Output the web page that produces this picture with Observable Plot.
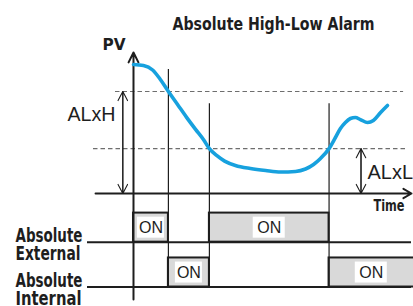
<!DOCTYPE html>
<html><head><meta charset="utf-8">
<script src="https://cdn.jsdelivr.net/npm/d3@7"></script>
<script src="https://cdn.jsdelivr.net/npm/@observablehq/plot@0.6"></script>
<style>
html,body{margin:0;padding:0;background:#fff;}
#chart{width:413px;height:306px;overflow:hidden;}
</style>
</head><body><div id="chart"></div>
<script>
// ---- data ----
const title = "Absolute High-Low Alarm";
const yLabel = "PV";
const xLabel = "Time";
const highLabel = "ALxH";
const lowLabel = "ALxL";
const onLabel = "ON";
const alarmHigh = 100;
const alarmLow = 44;
const pvTime  = [0, 3.6, 6.9, 9.7, 12.6, 15.9, 19.1, 22.4, 25.3, 27.4, 30.0, 32.9, 36.8, 42.2, 47.7, 53.1, 58.5, 62.1, 65.0, 67.5, 70.6, 72.9, 74.7, 76.5, 78.3, 80.1, 81.9, 84.5, 86.6, 89.2, 91.7];
const pvValue = [126.5, 125.5, 121.1, 111.8, 100, 87.3, 74.9, 62.9, 52.7, 44, 37.3, 31.8, 27.5, 24.5, 22.5, 21.1, 21.6, 24, 28.4, 34.3, 44, 54.9, 63.7, 69.6, 73.5, 74.5, 72.5, 69.6, 71.6, 79.4, 86.3];
const switchTimes = [0, 12.6, 27.4, 70.6];
const relayNames = ["Absolute External", "Absolute Internal"];
const externalState = [1, 0, 1, 0];
const internalState = [0, 1, 0, 1];

// ---- layout ----
const W = 413, H = 306;
const xDomain = [-48.01, 101.08];
const yDomain = [-110.78, 189.22];
const pxPerT = W / (xDomain[1] - xDomain[0]);
const rowBase = [-47.7, -91.7];
const rowHeight = 28.5;
const tEnd = xDomain[1] + 2;
const ink = "#1e1e1e";
const boldFont = "'DejaVu Sans Condensed', 'DejaVu Sans', sans-serif";
const textFont = "'Liberation Sans', Arial, sans-serif";

const pv = pvTime.map((t, i) => ({t, v: pvValue[i]}));

const pulses = [];
[externalState, internalState].forEach((states, r) => {
  states.forEach((s, i) => {
    if (!s) return;
    const t1 = switchTimes[i];
    const t2 = i + 1 < switchTimes.length ? switchTimes[i + 1] : tEnd;
    const vis2 = Math.min(t2, xDomain[1]);
    const wpx = (vis2 - t1) * pxPerT;
    const boxW = wpx < 45 ? 27 : 32;
    pulses.push({t1, t2, base: rowBase[r], mid: (t1 + vis2) / 2, hw: boxW / 2 / pxPerT});
  });
});

const thresholds = [alarmHigh, alarmLow, alarmLow];
const markers = switchTimes.slice(1).map((t, i) => ({t, top: thresholds[i] + (thresholds[i] === alarmHigh ? 21.6 : 44.1)}));

const rows = relayNames.map((name, r) => {
  const [a, b] = name.split(" ");
  return {first: a, second: b, base: rowBase[r]};
});

const chart = Plot.plot({
  width: W, height: H, margin: 0,
  style: {background: "white"},
  x: {domain: xDomain, range: [0, W], axis: null},
  y: {domain: yDomain, range: [H, 0], axis: null},
  marks: [
    // threshold dashed lines
    Plot.ruleY([alarmHigh], {x1: -6.5, x2: 97.5, stroke: "#6e6e6e", strokeWidth: 1.2, strokeDasharray: "4.5,3"}),
    Plot.ruleY([alarmLow], {x1: -14.44, x2: 98.2, stroke: "#6e6e6e", strokeWidth: 1.2, strokeDasharray: "4.5,3"}),
    // relay pulses
    Plot.rect(pulses, {x1: "t1", x2: "t2", y1: "base", y2: d => d.base + rowHeight, fill: "#d9d9d9", stroke: ink, strokeWidth: 2}),
    Plot.ruleY(rowBase, {x1: -16.6, x2: 100.36, stroke: ink, strokeWidth: 2}),
    // switching markers
    Plot.ruleX(markers, {x: "t", y1: "top", y2: rowBase[1], stroke: ink, strokeWidth: 1.2}),
    // ON labels
    Plot.rect(pulses, {x1: d => d.mid - d.hw, x2: d => d.mid + d.hw, y1: d => d.base + 3.9, y2: d => d.base + 24.5, fill: "white"}),
    Plot.text(pulses, {x: "mid", y: d => d.base + 14.2, text: () => onLabel, fontFamily: textFont, fontSize: 16, fill: ink}),
    // axes
    Plot.arrow([0], {x1: 0, x2: 0, y1: -103.9, y2: 138.2, stroke: ink, strokeWidth: 2, headLength: 8.25, headAngle: 53}),
    Plot.arrow([0], {x1: -13.7, x2: 100.36, y1: 0, y2: 0, stroke: ink, strokeWidth: 2, headLength: 7, headAngle: 60}),
    // ALxH / ALxL double arrows
    Plot.arrow([0], {x1: -3.86, x2: -3.86, y1: 0, y2: alarmHigh, stroke: ink, strokeWidth: 1.1, headLength: 14, headAngle: 55}),
    Plot.arrow([0], {x1: -3.86, x2: -3.86, y1: alarmHigh, y2: 0, stroke: ink, strokeWidth: 1.1, headLength: 14, headAngle: 55}),
    Plot.arrow([0], {x1: 82.13, x2: 82.13, y1: 0, y2: alarmLow, stroke: ink, strokeWidth: 1.1, headLength: 14, headAngle: 55}),
    Plot.arrow([0], {x1: 82.13, x2: 82.13, y1: alarmLow, y2: 0, stroke: ink, strokeWidth: 1.1, headLength: 14, headAngle: 55}),
    // PV curve
    Plot.line(pv, {x: "t", y: "v", curve: "monotone-x", stroke: "#17a1de", strokeWidth: 3.6, strokeLinecap: "round"}),
    // texts
    Plot.text([title], {frameAnchor: "top-left", dx: 273, dy: 29, textAnchor: "middle", lineAnchor: "bottom", fontFamily: boldFont, fontWeight: "bold", fontSize: 18, fill: ink}),
    Plot.text([yLabel], {frameAnchor: "top-left", dx: 102, dy: 49, textAnchor: "start", lineAnchor: "bottom", fontFamily: boldFont, fontWeight: "bold", fontSize: 15, fill: ink}),
    Plot.text([xLabel], {frameAnchor: "top-left", dx: 373, dy: 210, textAnchor: "start", lineAnchor: "bottom", fontFamily: boldFont, fontWeight: "bold", fontSize: 16, fill: ink}),
    Plot.text([highLabel], {frameAnchor: "top-left", dx: 67, dy: 120, textAnchor: "start", lineAnchor: "bottom", fontFamily: textFont, fontSize: 20, fill: ink}),
    Plot.text([lowLabel], {frameAnchor: "top-left", dx: 367, dy: 178, textAnchor: "start", lineAnchor: "bottom", fontFamily: textFont, fontSize: 20, fill: ink}),
    Plot.text(rows, {x: -42.6, y: "base", text: "first", textAnchor: "start", lineAnchor: "bottom", fontFamily: boldFont, fontWeight: "bold", fontSize: 19, fill: ink}),
    Plot.text(rows, {x: -42.6, y: "base", dy: 18, text: "second", textAnchor: "start", lineAnchor: "bottom", fontFamily: boldFont, fontWeight: "bold", fontSize: 19, fill: ink})
  ]
});

const lengths = {"Absolute High-Low Alarm": 202, "PV": 23, "Time": 31, "Absolute": 67, "External": 65, "Internal": 66, "ALxH": 48};
d3.select(chart).selectAll("text").each(function() {
  const L = lengths[this.textContent];
  if (L) { this.setAttribute("textLength", L); this.setAttribute("lengthAdjust", "spacingAndGlyphs"); }
});
document.getElementById("chart").appendChild(chart);
</script>
</body></html>
